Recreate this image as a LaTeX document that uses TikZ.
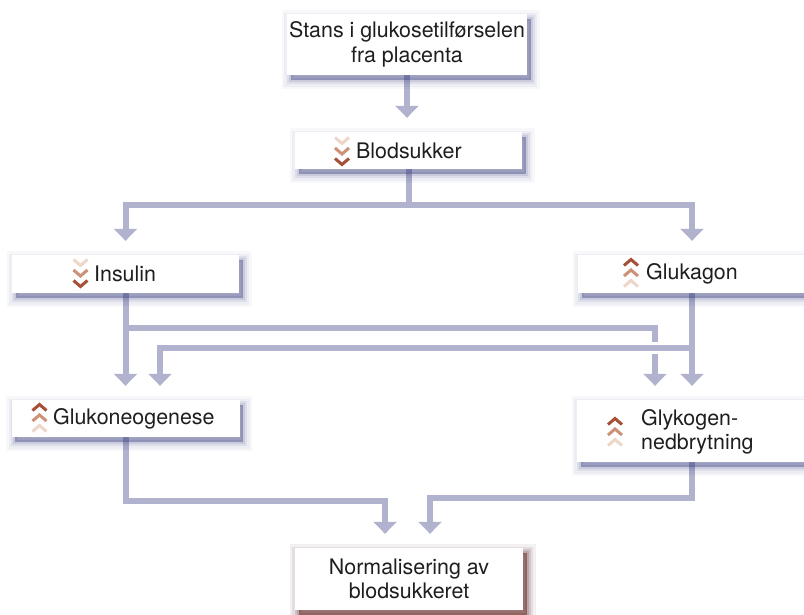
\documentclass[tikz,border=0pt]{standalone}
\usepackage{fontspec}
\setmainfont{TeX Gyre Heros}
\usetikzlibrary{arrows.meta,calc}
\pgfdeclarelayer{bg}
\pgfsetlayers{bg,main}
\definecolor{lineC}{RGB}{176,178,206}
\definecolor{shB}{RGB}{65,70,130}
\definecolor{shR}{RGB}{150,70,40}
\definecolor{chD}{RGB}{165,80,55}
\definecolor{chM}{RGB}{205,145,120}
\definecolor{chP}{RGB}{238,215,200}
\definecolor{txt}{RGB}{30,30,30}
\newcommand\myfs{\fontsize{21.4}{24.5}\selectfont}
\tikzset{
  shad/.style={
    preaction={fill=#1, draw=#1, line width=18pt, opacity=0.04, transform canvas={xshift=3.5pt,yshift=-5pt}},
    preaction={fill=#1, draw=#1, line width=13pt, opacity=0.06, transform canvas={xshift=3.5pt,yshift=-5pt}},
    preaction={fill=#1, draw=#1, line width=8pt, opacity=0.09, transform canvas={xshift=3.5pt,yshift=-5pt}},
    preaction={fill=#1, draw=#1, line width=4pt, opacity=0.13, transform canvas={xshift=3.5pt,yshift=-5pt}},
    preaction={fill=#1, opacity=0.2, transform canvas={xshift=3.5pt,yshift=-5pt}}},
  box/.style={shad=shB, fill=white, rectangle, inner sep=0pt, align=center, text=txt, font=\myfs},
  lbl/.style={inner sep=0pt, anchor=west, align=left, text=txt, font=\myfs},
  conn/.style={draw=lineC, line width=6pt},
  arr/.style={conn, -{Triangle[width=23pt,length=12pt]}, shorten >=14pt},
  chev/.style={line width=3pt},
  pics/chevdown/.style={code={
    \foreach \c/\dy in {chP/-10.5, chM/0, chD/10.5}
      \draw[chev,\c] (-7,\dy-3) -- (0,\dy+3) -- (7,\dy-3);}},
  pics/chevup/.style={code={
    \foreach \c/\dy in {chD/-10.5, chM/0, chP/10.5}
      \draw[chev,\c] (-7,\dy+3) -- (0,\dy-3) -- (7,\dy+3);}},
}
\begin{document}
\begin{tikzpicture}[x=1pt,y=-1pt]
\useasboundingbox (0,0) rectangle (804,614);
\clip (0,0) rectangle (804,614);

\node[box, minimum width=240, minimum height=61] (top) at (407,44.5) {Stans i glukosetilførselen\\fra placenta};
\node[box, minimum width=227, minimum height=37] (blod) at (408.5,150.5) {};
\node[box, minimum width=227, minimum height=38] (ins) at (125.5,274) {};
\node[box, minimum width=228, minimum height=38] (glk) at (692,274) {};
\node[box, minimum width=228, minimum height=37] (glu) at (125.5,418.5) {};
\node[box, minimum width=229, minimum height=62] (gly) at (691.5,431) {};
\node[box, shad=shR, minimum width=228, minimum height=62] (norm) at (409,579) {Normalisering av\\blodsukkeret};

\pic at (342,151) {chevdown};
\node[lbl] (blodt) at (356,151) {Blodsukker};
\pic at (80.5,273) {chevdown};
\node[lbl] (inst) at (94,274) {Insulin};
\pic at (631,273) {chevup};
\node[lbl] (glkt) at (646,274) {Glukagon};
\pic at (39.5,418) {chevup};
\node[lbl] (glut) at (53,419) {Glukoneogenese};
\pic at (615,432) {chevup};
\node[lbl] (glyt) at (641,432) {Glykogen-\\nedbrytning};

\coordinate (h1) at (0,205);
\coordinate (h2) at (0,328);
\coordinate (h3) at (0,348);
\coordinate (h4) at (0,501);
\coordinate (h5) at (0,498);
\coordinate (a1) at (655,0);
\coordinate (b1) at (160,0);
\coordinate (c1) at (385,0);
\coordinate (c2) at (430,0);

\begin{pgfonlayer}{bg}
\draw[arr] (top.south) -- (top.south |- blod.north);
\draw[arr] (blod.south) |- (ins.north |- h1) -- (ins.north);
\draw[arr] (blod.south) |- (glk.north |- h1) -- (glk.north);
\draw[arr] (ins.south) -- (ins.south |- glu.north);
\draw[arr] (ins.south) |- (a1 |- h2) -- (a1 |- gly.north);
\draw[white, line width=12pt] (glk.south |- h3) -- (b1 |- h3);
\draw[arr] (glk.south) |- (b1 |- h3) -- (b1 |- glu.north);
\draw[arr] (glk.south) -- (glk.south |- gly.north);
\draw[arr] (glu.south) |- (c1 |- h4) -- (c1 |- norm.north);
\draw[arr] (gly.south) |- (c2 |- h5) -- (c2 |- norm.north);
\end{pgfonlayer}
\end{tikzpicture}
\end{document}
